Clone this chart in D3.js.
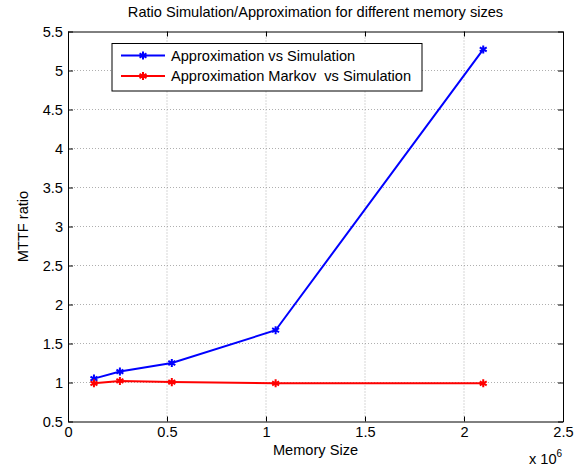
<!DOCTYPE html>
<html>
<head>
<meta charset="utf-8">
<script src="https://cdn.jsdelivr.net/npm/d3@7"></script>
<style>
  body { margin: 0; background: #fff; }
  text { font-family: "Liberation Sans", Arial, sans-serif; white-space: pre; }
</style>
</head>
<body>
<div id="chart"></div>
<script>
// data
const memSizes = [131072, 262144, 524288, 1048576, 2097152];
const approxVsSim = [1.05, 1.14, 1.25, 1.67, 5.27];
const markovVsSim = [0.99, 1.02, 1.005, 0.99, 0.99];
const seriesNames = ["Approximation vs Simulation", "Approximation Markov  vs Simulation"];
const seriesColors = ["#0000ff", "#ff0000"];
const xTicks = [0, 0.5e6, 1e6, 1.5e6, 2e6, 2.5e6];
const yTicks = [0.5, 1, 1.5, 2, 2.5, 3, 3.5, 4, 4.5, 5, 5.5];

const W = 586, H = 470;
const margin = {top: 31.5, right: 23, bottom: 48.5, left: 68};
const width = W - margin.left - margin.right;
const height = H - margin.top - margin.bottom;
const fs = 14.6;

const svg = d3.select("#chart").append("svg")
    .attr("width", W)
    .attr("height", H);

const g = svg.append("g")
    .attr("transform", "translate(" + margin.left + "," + margin.top + ")");

const x = d3.scaleLinear().domain([0, 2.5e6]).range([0, width]);
const y = d3.scaleLinear().domain([0.5, 5.5]).range([height, 0]);

// grid
g.append("g").selectAll("line")
    .data(xTicks.slice(1, -1))
    .join("line")
    .attr("x1", d => x(d)).attr("x2", d => x(d))
    .attr("y1", 0).attr("y2", height)
    .attr("stroke", "#9a9a9a").attr("stroke-width", 0.8)
    .attr("stroke-dasharray", "1,2");
g.append("g").selectAll("line")
    .data(yTicks.slice(1, -1))
    .join("line")
    .attr("x1", 0).attr("x2", width)
    .attr("y1", d => y(d)).attr("y2", d => y(d))
    .attr("stroke", "#9a9a9a").attr("stroke-width", 0.8)
    .attr("stroke-dasharray", "1,2");

// axes, ticks pointing inward
const fmtX = d => d / 1e6;
g.append("g")
    .attr("transform", "translate(0," + height + ")")
    .call(d3.axisBottom(x).tickValues(xTicks).tickFormat(fmtX).tickSizeInner(-5).tickSizeOuter(0).tickPadding(5))
    .call(a => a.selectAll("text").attr("font-size", fs).attr("fill", "#000").attr("font-family", "Liberation Sans, Arial, sans-serif"));
g.append("g")
    .call(d3.axisTop(x).tickValues(xTicks).tickFormat("").tickSizeInner(-5).tickSizeOuter(0));
g.append("g")
    .call(d3.axisLeft(y).tickValues(yTicks).tickFormat(d => d).tickSizeInner(-5).tickSizeOuter(0).tickPadding(5))
    .call(a => a.selectAll("text").attr("font-size", fs).attr("fill", "#000").attr("font-family", "Liberation Sans, Arial, sans-serif"));
g.append("g")
    .attr("transform", "translate(" + width + ",0)")
    .call(d3.axisRight(y).tickValues(yTicks).tickFormat("").tickSizeInner(-5).tickSizeOuter(0));
g.selectAll(".domain").attr("stroke", "#000");
g.selectAll(".tick line").attr("stroke", "#000");

// lines
const series = [approxVsSim, markovVsSim];
const line = d3.line()
    .x((d, i) => x(memSizes[i]))
    .y(d => y(d));
const star = d3.symbol().type(d3.symbolAsterisk).size(45);

series.forEach((vals, k) => {
    g.append("path")
        .datum(vals)
        .attr("fill", "none")
        .attr("stroke", seriesColors[k])
        .attr("stroke-width", 2)
        .attr("d", line);
    g.append("g").selectAll("path")
        .data(vals)
        .join("path")
        .attr("transform", (d, i) => "translate(" + x(memSizes[i]) + "," + y(d) + ")")
        .attr("d", star)
        .attr("fill", "none")
        .attr("stroke", seriesColors[k])
        .attr("stroke-width", 2);
});

// legend
const legend = svg.append("g").attr("transform", "translate(112,43.5)");
legend.append("rect")
    .attr("width", 310).attr("height", 47.5)
    .attr("fill", "#fff").attr("stroke", "#000").attr("stroke-width", 1);
seriesNames.forEach((name, k) => {
    const row = legend.append("g").attr("transform", "translate(0," + (12 + k * 20.5) + ")");
    row.append("line")
        .attr("x1", 9).attr("x2", 53)
        .attr("stroke", seriesColors[k]).attr("stroke-width", 2);
    row.append("path")
        .attr("transform", "translate(31,0)")
        .attr("d", star)
        .attr("fill", "none")
        .attr("stroke", seriesColors[k]).attr("stroke-width", 2);
    row.append("text")
        .attr("x", 59).attr("y", 5)
        .attr("font-size", fs)
        .text(name);
});

// title and labels
svg.append("text")
    .attr("x", margin.left + width / 2).attr("y", 17)
    .attr("text-anchor", "middle")
    .attr("font-size", fs)
    .text("Ratio Simulation/Approximation for different memory sizes");
svg.append("text")
    .attr("x", margin.left + width / 2).attr("y", 455)
    .attr("text-anchor", "middle")
    .attr("font-size", fs)
    .text("Memory Size");
svg.append("text")
    .attr("transform", "translate(28," + (margin.top + height / 2) + ") rotate(-90)")
    .attr("text-anchor", "middle")
    .attr("font-size", fs)
    .text("MTTF ratio");
const exp = svg.append("text")
    .attr("x", 529).attr("y", 464)
    .attr("font-size", fs);
exp.append("tspan").text("x 10");
exp.append("tspan").attr("dy", -7).attr("font-size", 10).text("6");
</script>
</body>
</html>
